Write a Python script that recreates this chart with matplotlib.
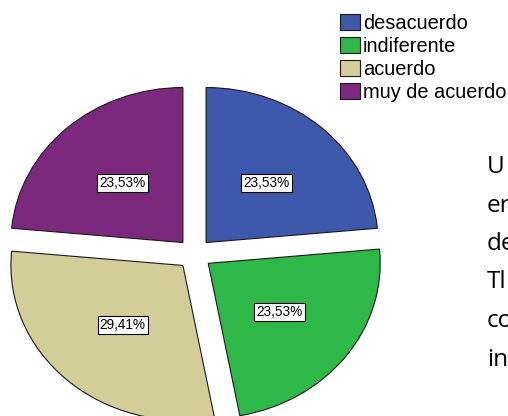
import matplotlib
matplotlib.use("Agg")
import matplotlib.pyplot as plt
from matplotlib.patches import Patch

categories = ["desacuerdo", "indiferente", "acuerdo", "muy de acuerdo"]
counts = [4, 4, 5, 4]
colors = ["#3E58AC", "#2EB848", "#D3CE97", "#7C287D"]
side_text = ["U", "er", "de", "Tl", "co", "in"]

plt.rcParams["font.family"] = ["Liberation Sans", "DejaVu Sans"]

W, H = 508, 416
fig = plt.figure(figsize=(W / 100, H / 100), dpi=100)
ax = fig.add_axes([0, 0, 1, 1])

wedges, texts, autotexts = ax.pie(
    counts,
    colors=colors,
    startangle=90,
    counterclock=False,
    explode=[0.1] * len(counts),
    autopct=lambda p: f"{p:.2f}%".replace(".", ","),
    pctdistance=0.52,
    wedgeprops=dict(edgecolor="#1a1a1a", linewidth=0.8),
    textprops=dict(fontsize=9.8, color="black"),
)
for t in autotexts:
    t.set_bbox(dict(boxstyle="square,pad=0.15", fc="white", ec="black", lw=0.8))

# elliptical pie: centre ~ (194.5, 254) px, rx ~172 px, ry ~155 px
cx, cy, rx, ry = 194.5, 254, 172, 155
ax.set_aspect("auto")
ax.set_xlim(-cx / rx, (W - cx) / rx)
ax.set_ylim(-(H - cy) / ry, cy / ry)
ax.axis("off")

handles = [Patch(facecolor=c, edgecolor="#1a1a1a", lw=0.8) for c in colors]
fig.legend(
    handles, categories,
    loc="upper left", bbox_to_anchor=(340 / W, 1 - 14 / H),
    frameon=False, fontsize=14.4,
    handlelength=1.0, handleheight=0.85, handletextpad=0.15,
    labelspacing=0.2, borderpad=0, borderaxespad=0,
)

for i, s in enumerate(side_text):
    fig.text(487 / W, 1 - (167 + i * 38.5) / H, s, fontsize=17.5,
             family=["Open Sans", "DejaVu Sans"], va="center", ha="left")

fig.savefig("out.png", dpi=100)
